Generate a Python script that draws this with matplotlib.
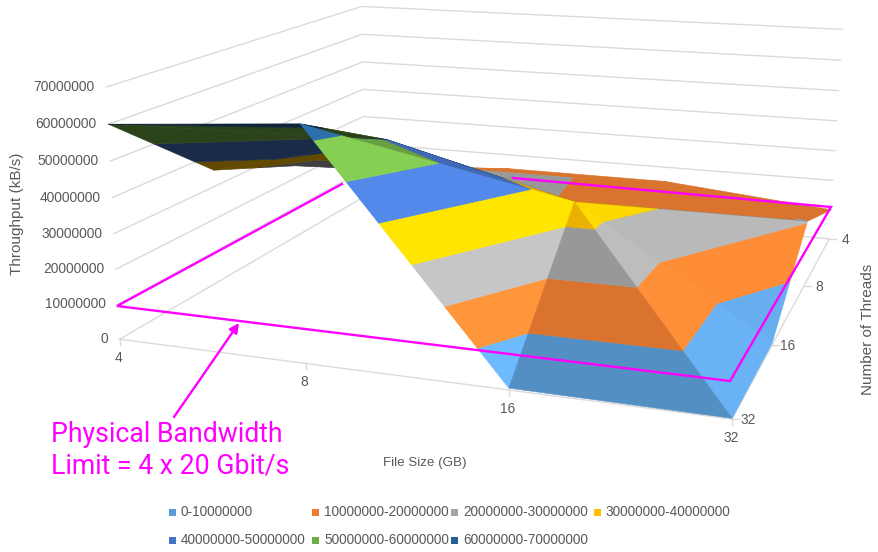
import numpy as np
import matplotlib
matplotlib.use('Agg')
import matplotlib.pyplot as plt

file_sizes = ['4', '8', '16', '32']
thread_counts = ['4', '8', '16', '32']

# throughput in kB/s, one list per thread count, one value per file size
tp_4_threads = [12000000, 15000000, 15000000, 10000000]
tp_8_threads = [24000000, 26000000, 16000000, 20300000]
tp_16_threads = [35000000, 48500000, 35000000, 500000]
tp_32_threads = [60000000, 64000000, 500000, 200000]

z_ticks = [0, 10000000, 20000000, 30000000, 40000000, 50000000, 60000000, 70000000]

band_labels = ['0-10000000', '10000000-20000000', '20000000-30000000', '30000000-40000000',
               '40000000-50000000', '50000000-60000000', '60000000-70000000']
band_colors = ['#5B9BD5', '#ED7D31', '#A5A5A5', '#FFC000', '#4472C4', '#70AD47', '#255E91']

Z = np.array([tp_4_threads, tp_8_threads, tp_16_threads, tp_32_threads], dtype=float)

# camera fitted on the box corners: (file idx, thread idx, z / 1e7) -> pixel
calib = [
    (0, 3, 0, 121, 339), (1, 3, 0, 305, 364), (2, 3, 0, 508, 391), (3, 3, 0, 732, 418),
    (3, 2, 0, 772, 345), (3, 1, 0, 805, 287), (3, 0, 0, 829, 238), (0, 0, 0, 363, 197),
    (0, 3, 7, 105, 87), (0, 0, 7, 363, 6), (3, 0, 7, 842, 30), (0, 3, 4, 113, 197),
]
rows = []
for u, v, w, px, py in calib:
    px, py = px / 100, py / 100
    rows.append([u, v, w, 1, 0, 0, 0, 0, -px * u, -px * v, -px * w, -px])
    rows.append([0, 0, 0, 0, u, v, w, 1, -py * u, -py * v, -py * w, -py])
P = np.linalg.svd(np.array(rows))[2][-1].reshape(3, 4)
P = P / P[2, 3]


def project(u, v, z):
    h = P @ np.array([u, v, z / 1e7, 1.0])
    return h[0] / h[2] * 100, h[1] / h[2] * 100


def depth(pts):
    return np.mean([P[2] @ np.array([p[0], p[1], p[2] / 1e7, 1.0]) for p in pts])


def clip(poly, level, keep_above):
    out = []
    for i in range(len(poly)):
        a, b = np.array(poly[i]), np.array(poly[(i + 1) % len(poly)])
        ina = a[2] >= level if keep_above else a[2] <= level
        inb = b[2] >= level if keep_above else b[2] <= level
        if ina:
            out.append(a)
        if ina != inb:
            t = (level - a[2]) / (b[2] - a[2])
            out.append(a + t * (b - a))
    return out


def shade(color, tri, flipped):
    rgb = np.array(matplotlib.colors.to_rgb(color))
    if flipped:
        return tuple(rgb * 0.38)
    a, b, c = [np.array([p[0], p[1], p[2] / 1e7]) for p in tri]
    n = np.cross(b - a, c - a)
    if n[2] < 0:
        n = -n
    n = n / np.linalg.norm(n)
    f = 0.92 + 0.42 * max(n[0] - 1.5 * n[2], 0)
    return tuple(np.clip(rgb * f, 0, 1))


# split every cell along its higher diagonal
triangles = []
for v in range(3):
    for u in range(3):
        p00 = (u, v, Z[v, u])
        p10 = (u + 1, v, Z[v, u + 1])
        p01 = (u, v + 1, Z[v + 1, u])
        p11 = (u + 1, v + 1, Z[v + 1, u + 1])
        if p10[2] + p01[2] >= p00[2] + p11[2]:
            triangles += [[p00, p10, p01], [p10, p11, p01]]
        else:
            triangles += [[p00, p10, p11], [p00, p11, p01]]
triangles.sort(key=depth, reverse=True)

fig = plt.figure(figsize=(8.79, 5.52), dpi=100)
ax = fig.add_axes([0, 0, 1, 1])
ax.set_xlim(0, 879)
ax.set_ylim(552, 0)
ax.axis('off')
plt.rcParams['font.family'] = 'Liberation Sans'

grid_col = '#DADADA'
text_col = '#595959'

# walls and floor
for z in z_ticks:
    pts = [project(0, 3, z), project(0, 0, z), project(3, 0, z)]
    ax.plot([p[0] for p in pts], [p[1] for p in pts], color=grid_col, lw=1.0, zorder=1)
for a, b in [((0, 3), (3, 3)), ((3, 3), (3, 0))]:
    pa, pb = project(a[0], a[1], 0), project(b[0], b[1], 0)
    ax.plot([pa[0], pb[0]], [pa[1], pb[1]], color=grid_col, lw=1.0, zorder=1)

# tick labels
for z in z_ticks:
    x, y = project(0, 3, z)
    ax.text(x - 12, y, str(z), ha='right', va='center', fontsize=9.9, color=text_col)
for i, lab in enumerate(file_sizes):
    x, y = project(i, 3, 0)
    ax.plot([x, x], [y, y + 6], color=grid_col, lw=1.0, zorder=1)
    ax.text(x - 1, y + 19, lab, ha='center', va='center', fontsize=9.9, color=text_col)
for i, lab in enumerate(thread_counts):
    x, y = project(3, i, 0)
    ax.plot([x, x + 7], [y, y], color=grid_col, lw=1.0, zorder=1)
    ax.text(x + 16, y + 1, lab, ha='center', va='center', fontsize=9.9, color=text_col)

# surface, back to front, one polygon per value band
for tri in triangles:
    s = [project(*p) for p in tri]
    screen_area = (s[1][0] - s[0][0]) * (s[2][1] - s[0][1]) - (s[2][0] - s[0][0]) * (s[1][1] - s[0][1])
    a3 = np.array(tri[1]) - np.array(tri[0])
    b3 = np.array(tri[2]) - np.array(tri[0])
    # winding on the grid against winding on screen tells which side of the sheet shows
    grid_area = a3[0] * b3[1] - a3[1] * b3[0]
    flipped = screen_area * grid_area < 0
    for k, col in enumerate(band_colors):
        poly = clip(clip(tri, k * 1e7, True), (k + 1) * 1e7, False)
        if len(poly) < 3:
            continue
        xy = [project(*p) for p in poly]
        c = shade(col, tri, flipped)
        ax.fill([q[0] for q in xy], [q[1] for q in xy], facecolor=c, edgecolor=c, lw=0.4, zorder=2)

# axis titles
ax.text(17, 214, 'Throughput (kB/s)', rotation=90, ha='center', va='center', fontsize=11, color=text_col)
ax.text(425, 463, 'File Size (GB)', ha='center', va='center', fontsize=9.6, color=text_col)
ax.text(868, 329, 'Number of Threads', rotation=90, ha='center', va='center', fontsize=11, color=text_col)

# legend
legend_x = [173, 316, 455, 598, 173, 316, 455]
legend_y = [512, 512, 512, 512, 540, 540, 540]
for lab, col, lx, ly in zip(band_labels, band_colors, legend_x, legend_y):
    ax.add_patch(plt.Rectangle((lx - 3.5, ly - 3.5), 7, 7, facecolor=col, edgecolor='none', zorder=3))
    ax.text(lx + 8, ly, lab, ha='left', va='center', fontsize=9.8, color=text_col)

# hand-drawn bandwidth limit outline and its note
magenta = '#FF00FF'
outline_x = [342, 117, 730, 831, 513]
outline_y = [184, 306, 381, 207, 178]
ax.plot(outline_x, outline_y, color=magenta, lw=1.7, zorder=4, solid_joinstyle='miter')
ax.annotate('', xy=(239, 323), xytext=(174, 417), zorder=4,
            arrowprops=dict(arrowstyle='-|>', color=magenta, lw=1.7, mutation_scale=14, shrinkA=0, shrinkB=0))
ax.text(51, 435, 'Physical Bandwidth', color=magenta, fontsize=19.2, family='Roboto', ha='left', va='center')
ax.text(51, 466, 'Limit = 4 x 20 Gbit/s', color=magenta, fontsize=19.2, family='Roboto', ha='left', va='center')

fig.savefig('out.png', dpi=100)
